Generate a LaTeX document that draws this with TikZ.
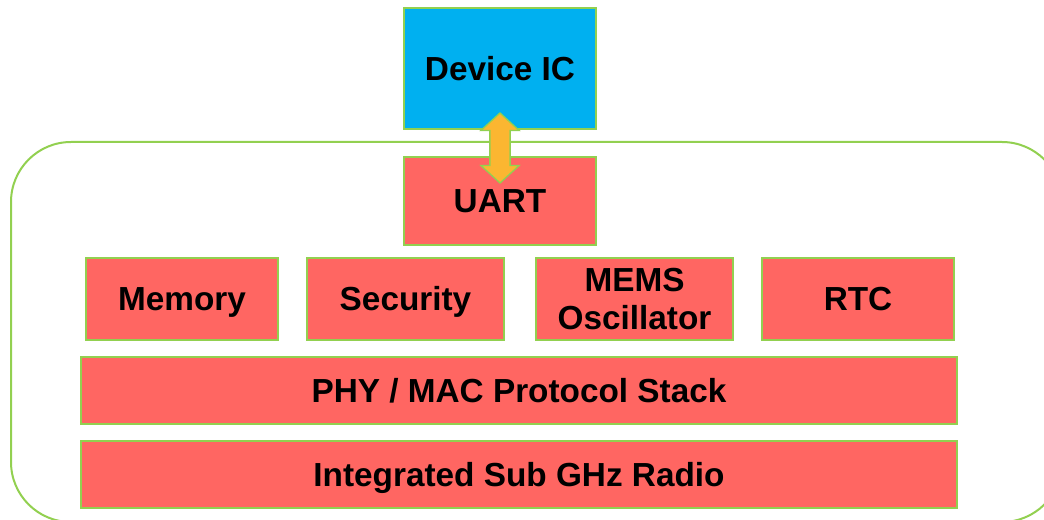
\documentclass[tikz,border=0pt]{standalone}
\usepackage{fontspec}
\setmainfont{Liberation Sans}
\usetikzlibrary{shapes.arrows, calc}
\definecolor{icblue}{HTML}{00B0F0}
\definecolor{blockred}{HTML}{FF6662}
\definecolor{edgegreen}{HTML}{92D050}
\definecolor{arrowgold}{HTML}{FBB631}
\begin{document}
\begin{tikzpicture}[x=0.75pt, y=-0.75pt,
    blk/.style={draw=edgegreen, line width=1.5pt, fill=blockred, align=center, inner sep=0pt,
        font=\fontsize{25}{28.5}\selectfont\bfseries, text height=17.9pt, text depth=0pt},
    link/.style={double arrow, draw=edgegreen, line width=1pt, fill=arrowgold, rotate=90,
        inner xsep=0pt, inner ysep=7.1pt, minimum height=52.5pt, minimum width=27.75pt,
        double arrow head extend=6.75pt, double arrow tip angle=95}]
    \useasboundingbox (0,0) rectangle (1044,520);
    % board outline
    \draw[edgegreen, line width=1.5pt, rounded corners=45pt] (11,142) rectangle (1062,522);
    \node[blk, fill=icblue, minimum width=144pt, minimum height=90.75pt] (dev) at (500,68.5) {Device IC};
    \node[blk, minimum width=144pt, minimum height=66pt] (uart) at (500,201) {UART};
    \foreach \n/\x/\w/\h/\t in {mem/182/144pt/17.9pt/Memory, sec/405.5/147.75pt/17.9pt/Security,
        mems/634.5/147.75pt/46.4pt/{MEMS\\Oscillator}, rtc/858/144pt/17.9pt/RTC} {
        \node[blk, minimum width=\w, minimum height=61.5pt, text height=\h] (\n) at (\x,299) {\t};
    }
    \node[blk, minimum width=657pt, minimum height=50.25pt] (phy) at (519,390.5) {PHY / MAC Protocol Stack};
    \node[blk, minimum width=657pt, minimum height=50.25pt] (radio) at (519,474.5) {Integrated Sub GHz Radio};
    % link between device and uart
    \node[link] (lnk) at ($(dev.south)!0.5!(uart.north)+(0,5)$) {};
\end{tikzpicture}
\end{document}
